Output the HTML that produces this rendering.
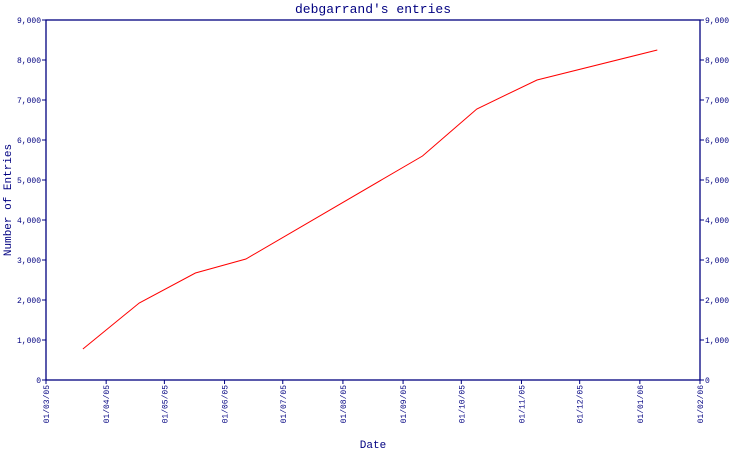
<!DOCTYPE html>
<html><head><meta charset="utf-8"><style>
body{margin:0;background:#fff}
svg{display:block}
text{font-family:"Liberation Mono","DejaVu Sans Mono",monospace;fill:#000080}
</style></head><body>
<svg id="chart" width="750" height="450" viewBox="0 0 750 450">
<text x="373" y="13" text-anchor="middle" font-size="13">debgarrand's entries</text>
<text transform="translate(11,200) rotate(-90)" text-anchor="middle" font-size="11">Number of Entries</text>
<text x="373" y="448" text-anchor="middle" font-size="11">Date</text>
<g id="axes"></g>
<g id="series"></g>
</svg>
<script>
const dates=["2005-03-20","2005-04-18","2005-05-17","2005-06-12","2005-09-11","2005-10-09","2005-11-09","2006-01-10"];
const entries=[775,1925,2675,3025,5600,6775,7500,8250];
const yTicks=[0,1000,2000,3000,4000,5000,6000,7000,8000,9000];
const yTickLabels=["0","1,000","2,000","3,000","4,000","5,000","6,000","7,000","8,000","9,000"];
const xTicks=["2005-03-01","2005-04-01","2005-05-01","2005-06-01","2005-07-01","2005-08-01","2005-09-01","2005-10-01","2005-11-01","2005-12-01","2006-01-01","2006-02-01"];
const xTickLabels=["01/03/05","01/04/05","01/05/05","01/06/05","01/07/05","01/08/05","01/09/05","01/10/05","01/11/05","01/12/05","01/01/06","01/02/06"];

const NS="http://www.w3.org/2000/svg";
const L=46,R=700,T=20,B=380;
const t0=Date.parse("2005-03-01"),t1=Date.parse("2006-02-01");
function xs(d){return L+(Date.parse(d)-t0)/(t1-t0)*(R-L);}
function ys(v){return B-v/9000*(B-T);}
function mk(tag,attrs,parent){const e=document.createElementNS(NS,tag);for(const k in attrs)e.setAttribute(k,attrs[k]);parent.appendChild(e);return e;}
const ax=document.getElementById('axes');
const frame=mk('rect',{x:L,y:T,width:R-L,height:B-T,fill:'none',stroke:'#000080','stroke-width':1.3},ax);


yTicks.forEach((v,i)=>{
  const y=ys(v);
  const tl=mk('line',{x1:L-4,x2:L,y1:y,y2:y,stroke:'#000080'},ax);
  
  
  const tr=mk('line',{x1:R,x2:R+4,y1:y,y2:y,stroke:'#000080'},ax);
  
  
  const a=mk('text',{x:L-5,y:y+3,'text-anchor':'end','font-size':8},ax);
  a.textContent=yTickLabels[i];
  
  
  const b=mk('text',{x:R+5,y:y+3,'font-size':8},ax);
  b.textContent=yTickLabels[i];
  
  
});
xTicks.forEach((d,i)=>{
  const x=xs(d);
  const tk=mk('line',{x1:x,x2:x,y1:B,y2:B+4,stroke:'#000080'},ax);
  
  
  const t=mk('text',{transform:`translate(${x+3},${B+5}) rotate(-90)`,'text-anchor':'end','font-size':8},ax);
  t.textContent=xTickLabels[i];
  
  
});
const pts=dates.map((d,i)=>xs(d).toFixed(1)+','+ys(entries[i]).toFixed(1)).join(' ');
const line=mk('polyline',{points:pts,fill:'none',stroke:'#ff0000','stroke-width':1},document.getElementById('series'));


</script>
</body></html>
